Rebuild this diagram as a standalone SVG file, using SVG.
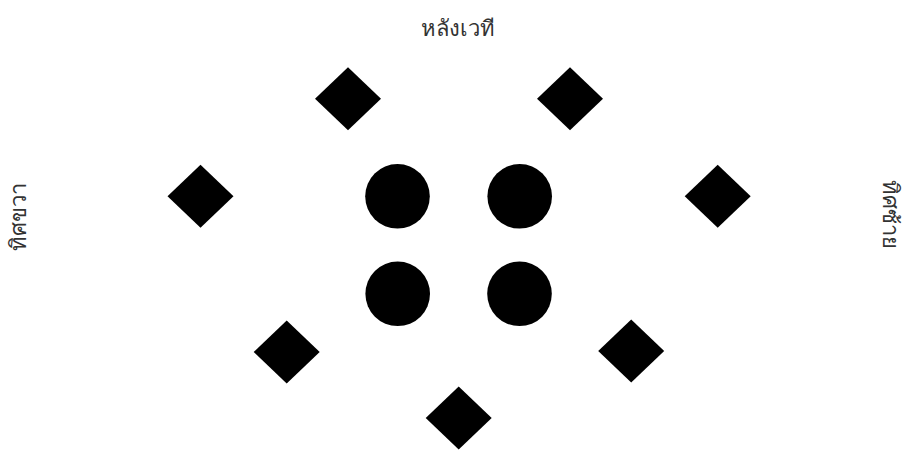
<svg xmlns="http://www.w3.org/2000/svg" width="906" height="450" viewBox="0 0 906 450">
<style>
.lbl{font-family:"Noto Sans","DejaVu Sans",sans-serif;font-size:22px;font-weight:300;fill:#333;text-anchor:middle}
.d{fill:#000}
.c{fill:#000}
</style>
<defs>
<polygon id="dia" points="0,-31.5 33,0 0,31.5 -33,0"/>
</defs>
<rect width="906" height="450" fill="#fff"/>
<g id="label-top"><text class="lbl" x="458" y="36">หลังเวที</text></g>
<g id="label-left"><text class="lbl" transform="translate(26,217) rotate(-90)">ทิศขวา</text></g>
<g id="label-right"><text class="lbl" transform="translate(883,214) rotate(90)">ทิศซ้าย</text></g>
<g id="d1"><use href="#dia" class="d" x="348" y="98.7"/></g>
<g id="d2"><use href="#dia" class="d" x="570" y="98.7"/></g>
<g id="d3"><use href="#dia" class="d" x="200.5" y="196.3"/></g>
<g id="d4"><use href="#dia" class="d" x="717.7" y="196.3"/></g>
<g id="d5"><use href="#dia" class="d" x="286.7" y="352"/></g>
<g id="d6"><use href="#dia" class="d" x="631.2" y="351"/></g>
<g id="d7"><use href="#dia" class="d" x="458.7" y="418"/></g>
<g id="c1"><circle class="c" cx="397.5" cy="196.3" r="32.3"/></g>
<g id="c2"><circle class="c" cx="519.7" cy="196.3" r="32.3"/></g>
<g id="c3"><circle class="c" cx="397.7" cy="293.8" r="32.3"/></g>
<g id="c4"><circle class="c" cx="519.5" cy="293.8" r="32.3"/></g>
<g id="connectors"/>
</svg>
